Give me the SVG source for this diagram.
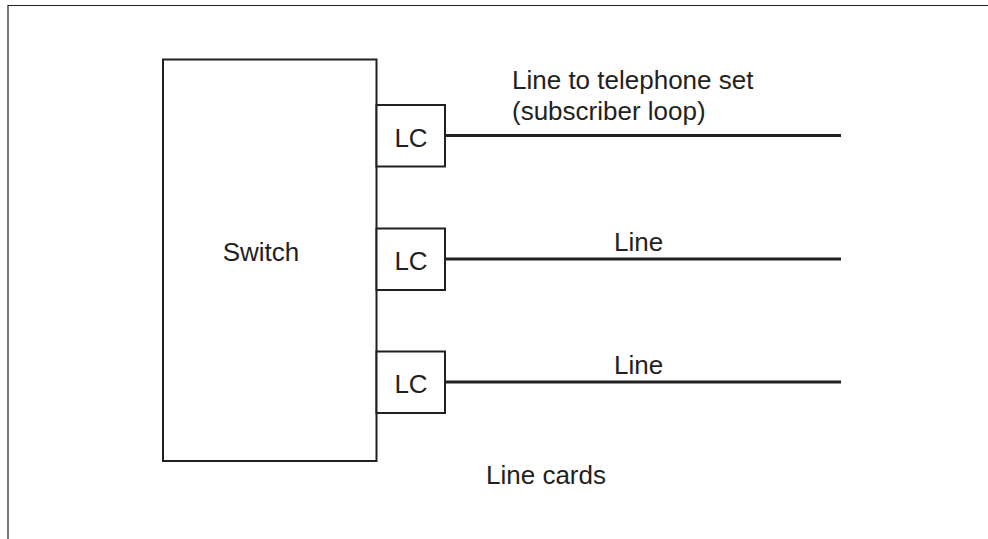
<svg xmlns="http://www.w3.org/2000/svg" width="988" height="539" viewBox="0 0 988 539">
<style>
.box{fill:#fff;stroke:#231f20;stroke-width:2}
.ln{stroke:#231f20;stroke-width:3;fill:none}
text{font-family:"Liberation Sans",Arial,sans-serif;font-size:26px;fill:#231f20}
.c{text-anchor:middle}
</style>
<rect x="0" y="0" width="988" height="539" fill="#fff"/>
<path d="M8 545 V5.5 H995" fill="none" stroke="#231f20" stroke-width="1.2"/>
<g id="switch">
<rect class="box" x="163" y="59.5" width="213.5" height="401.5"/>
<text class="c" x="261" y="260.5">Switch</text>
</g>
<g id="lc1">
<rect class="box" x="376.5" y="105" width="68.5" height="61.5"/>
<text class="c" x="411" y="146.5">LC</text>
</g>
<g id="lc2">
<rect class="box" x="376.5" y="228.5" width="68.5" height="61.5"/>
<text class="c" x="411" y="269.5">LC</text>
</g>
<g id="lc3">
<rect class="box" x="376.5" y="351.5" width="68.5" height="61.5"/>
<text class="c" x="411" y="392.5">LC</text>
</g>
<g id="connectors">
<line class="ln" x1="445" y1="135.5" x2="841" y2="135.5"/>
<line class="ln" x1="445" y1="259" x2="841" y2="259"/>
<line class="ln" x1="445" y1="382" x2="841" y2="382"/>
</g>
<g id="labels">
<text x="512" y="89">Line to telephone set</text>
<text x="512" y="120">(subscriber loop)</text>
<text x="614" y="250.5">Line</text>
<text x="614" y="373.5">Line</text>
<text x="486" y="483.5">Line cards</text>
</g>
</svg>
